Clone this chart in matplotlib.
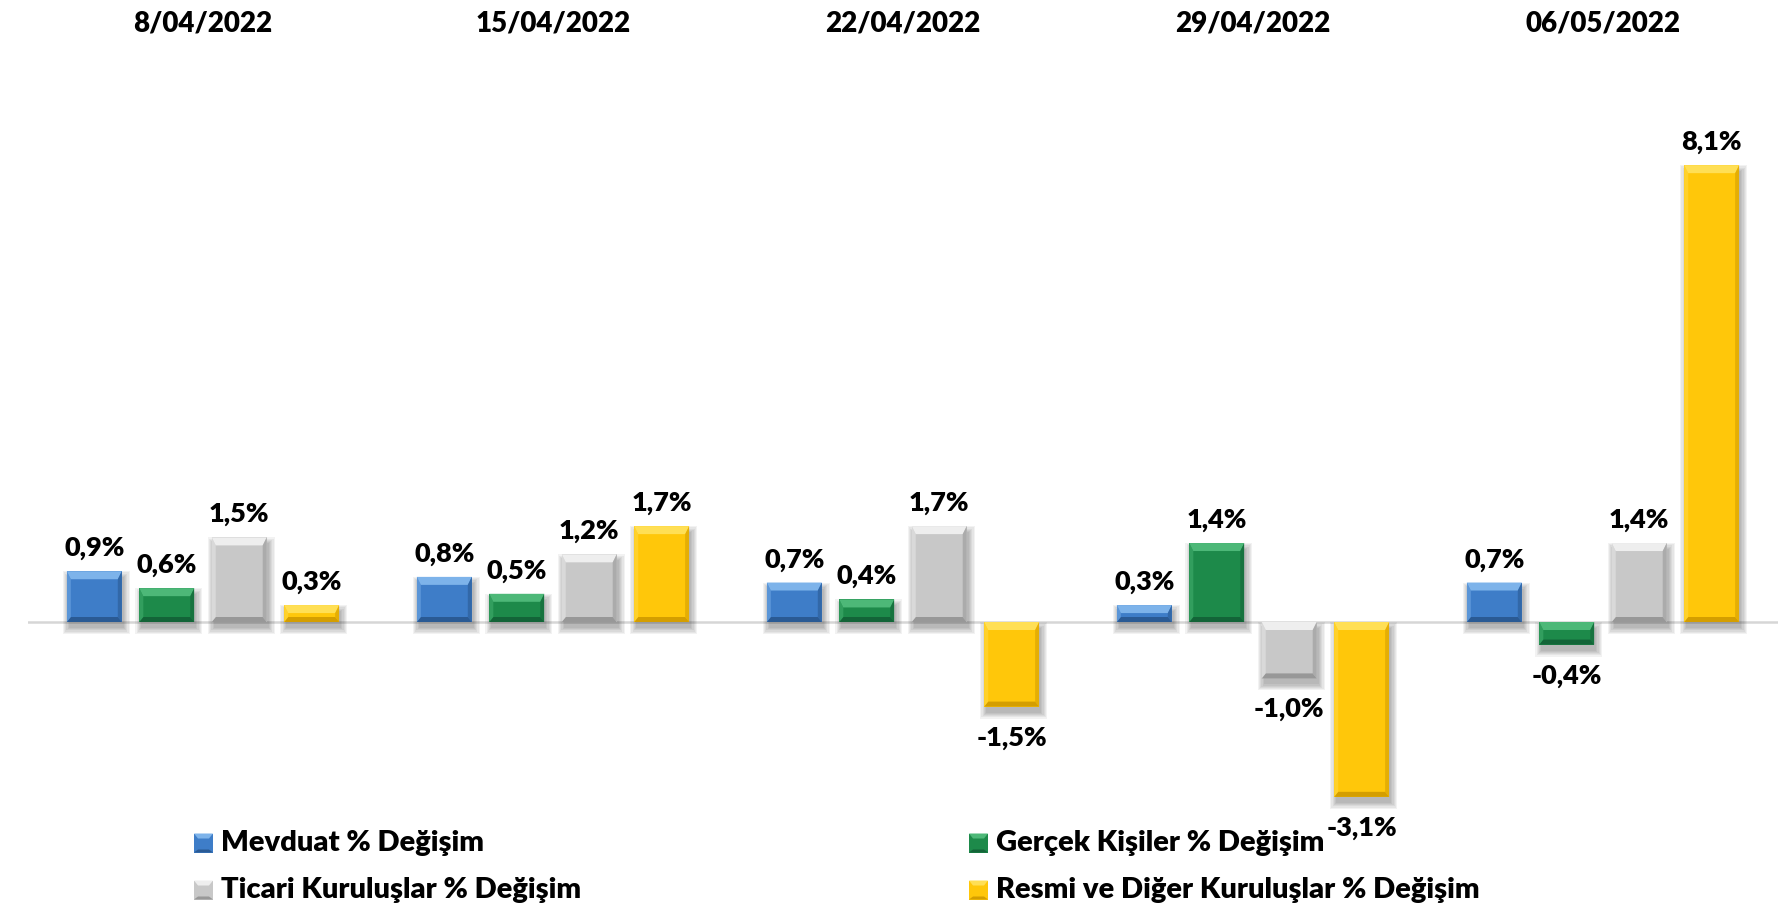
import matplotlib
matplotlib.use("Agg")
import matplotlib.pyplot as plt
from matplotlib.patches import Polygon, Rectangle
import numpy as np

# ---------------- data ----------------
dates = ["8/04/2022", "15/04/2022", "22/04/2022", "29/04/2022", "06/05/2022"]
mevduat = [0.9, 0.8, 0.7, 0.3, 0.7]
gercek = [0.6, 0.5, 0.4, 1.4, -0.4]
ticari = [1.5, 1.2, 1.7, -1.0, 1.4]
resmi = [0.3, 1.7, -1.5, -3.1, 8.1]
series_names = ["Mevduat % Değişim", "Gerçek Kişiler % Değişim",
                "Ticari Kuruluşlar % Değişim", "Resmi ve Diğer Kuruluşlar % Değişim"]
series_values = [mevduat, gercek, ticari, resmi]

# (base, light, dark)
palette = [("#3E7DC8", "#7DB3EA", "#2A5A94"),
           ("#1D8A4A", "#4DB878", "#136438"),
           ("#C8C8C8", "#EEEEEE", "#989898"),
           ("#FFC70A", "#FFDF55", "#D49E00")]

plt.rcParams['font.family'] = ['Lato', 'DejaVu Sans']
FW = 'heavy'

W, H = 1792, 919
fig = plt.figure(figsize=(W / 100, H / 100), dpi=100)
ax = fig.add_axes([28 / W, 1 - 810 / H, 1750 / W, 750 / H])
ax.set_xlim(-0.5, 4.5)
ax.set_ylim(-(810 - 622) / 56.4, (622 - 60) / 56.4)
for s in ax.spines.values():
    s.set_visible(False)
ax.set_yticks([])
x = np.arange(len(dates))
ax.xaxis.tick_top()
ax.set_xticks(x)
ax.set_xticklabels(dates, fontsize=20, fontweight=FW)
ax.tick_params(axis='x', length=0, pad=17)

ax.axhline(0, color="#D6D6D6", lw=1.8, zorder=1)

inv = ax.transData.inverted()
(px0, py0), (px1, py1) = inv.transform([(0, 0), (1, 1)])
dxp, dyp = px1 - px0, py1 - py0  # data units per pixel

pitch = 0.207
width = 0.157
n = len(series_values)


def bevel(xl, w, yt, yb, cols, z):
    base, light, dark = cols
    ds, dt, db = 4 * dxp, 8 * dyp, 5 * dyp
    xr = xl + w
    ax.add_patch(Polygon([(xl, yt), (xr, yt), (xr - ds, yt - dt), (xl + ds, yt - dt)],
                         closed=True, fc=light, ec='none', zorder=z))
    ax.add_patch(Polygon([(xl, yb), (xr, yb), (xr - ds, yb + db), (xl + ds, yb + db)],
                         closed=True, fc=dark, ec='none', zorder=z))
    ax.add_patch(Polygon([(xl, yt), (xl + ds, yt - dt), (xl + ds, yb + db), (xl, yb)],
                         closed=True, fc=light, alpha=0.45, ec='none', zorder=z))
    ax.add_patch(Polygon([(xr, yt), (xr - ds, yt - dt), (xr - ds, yb + db), (xr, yb)],
                         closed=True, fc=dark, alpha=0.6, ec='none', zorder=z))


for i, (vals, cols) in enumerate(zip(series_values, palette)):
    off = (i - (n - 1) / 2) * pitch
    bars = ax.bar(x + off, vals, width=width, color=cols[0], zorder=3, label=series_names[i])
    for b, v in zip(bars, vals):
        xl, w = b.get_x(), b.get_width()
        yt, yb = max(0, v), min(0, v)
        # soft shadow
        for k in range(6):
            e = k * 1.2
            ax.add_patch(Rectangle((xl + (2 - e) * dxp, yb - (6 + e) * dyp),
                                   w + 2 * e * dxp, (yt - yb) + (2 * e) * dyp,
                                   fc='black', alpha=0.05, ec='none', zorder=2))
        bevel(xl, w, yt, yb, cols, 4)
        txt = f"{v:.1f}".replace('.', ',') + '%'
        if v >= 0:
            ax.annotate(txt, (b.get_x() + w / 2, v), xytext=(0, 11), textcoords='offset pixels',
                        ha='center', va='bottom', fontsize=19.5, fontweight=FW, zorder=6)
        else:
            ax.annotate(txt, (b.get_x() + w / 2, v), xytext=(0, -19), textcoords='offset pixels',
                        ha='center', va='top', fontsize=19.5, fontweight=FW, zorder=6)

# ---------------- legend (manual) ----------------
leg_pos = [(194, 843), (969, 843), (194, 890), (969, 890)]
for (lx, ly), name, cols in zip(leg_pos, series_names, palette):
    s = 19
    fx, fy = lx / W, 1 - (ly + s / 2) / H
    fig.patches.append(Rectangle((fx, fy), s / W, s / H, transform=fig.transFigure,
                                 fc=cols[0], ec='none', zorder=3))
    fig.patches.append(Polygon([(fx, fy + s / H), (fx + s / W, fy + s / H),
                                (fx + (s - 4) / W, fy + (s - 5) / H), (fx + 4 / W, fy + (s - 5) / H)],
                               closed=True, transform=fig.transFigure, fc=cols[1], ec='none', zorder=4))
    fig.patches.append(Polygon([(fx, fy), (fx + s / W, fy),
                                (fx + (s - 4) / W, fy + 3 / H), (fx + 4 / W, fy + 3 / H)],
                               closed=True, transform=fig.transFigure, fc=cols[2], ec='none', zorder=4))
    fig.text((lx + 27) / W, 1 - ly / H, name, ha='left', va='center', fontsize=21, fontweight=FW)

fig.savefig("out.png", dpi=100, facecolor='white')
